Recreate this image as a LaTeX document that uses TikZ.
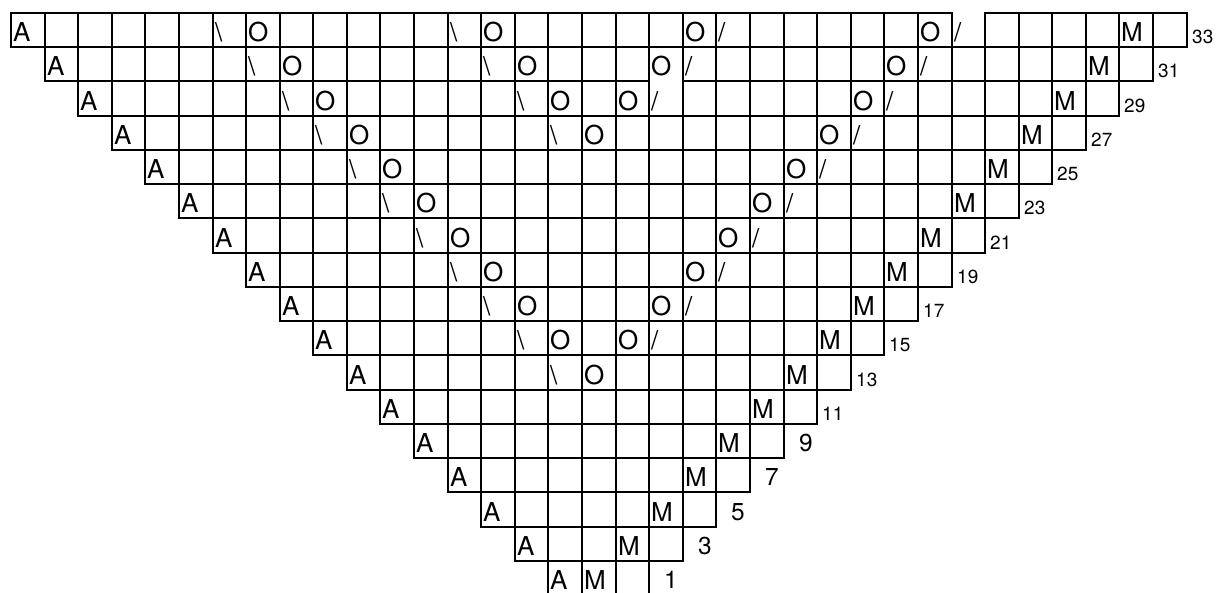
\documentclass[tikz,border=0pt]{standalone}
\usepackage{fontspec}
\setmainfont{TeX Gyre Heros}
\begin{document}
\begin{tikzpicture}[x=1pt,y=-1pt,
  declare function={px(\c)=round(11+33.59*\c); py(\i)=round(12.7+34.27*\i);},
  gridline/.style={line width=2pt,line cap=rect,black},
  sym/.style={anchor=base west,inner sep=0pt,font=\fontsize{26}{27}\selectfont},
  biglab/.style={anchor=base west,inner sep=0pt,font=\fontsize{24.5}{26}\selectfont},
  smalllab/.style={anchor=base west,inner sep=0pt,font=\fontsize{19}{20}\selectfont}]
\useasboundingbox (0,0) rectangle (1221,592);
\clip (0,0) rectangle (1221,592);
% vertical grid lines, row by row
\foreach \i in {0,...,16}{
  \pgfmathtruncatemacro{\e}{35-\i}
  \foreach \c in {\i,...,\e}{
    \draw[gridline] ({px(\c)},{py(\i)}) -- ({px(\c)},{py(\i+1)});
  }
}
% top line of row 33 (gap above column 28)
\draw[gridline] ({px(0)},{py(0)}) -- ({px(28)},{py(0)});
\draw[gridline] ({px(29)},{py(0)}) -- ({px(35)},{py(0)});
% horizontal lines below each row
\foreach \i in {1,...,17}{
  \ifnum\i=2\relax
    \draw[gridline] ({px(1)},{py(2)}) -- ({px(19)},{py(2)});
    \draw[gridline] ({px(20)},{py(2)}) -- ({px(34)},{py(2)});
  \else
    \draw[gridline] ({px(\i-1)},{py(\i)}) -- ({px(36-\i)},{py(\i)});
  \fi
}
% symbols
\foreach \i in {0,...,16}{
  \pgfmathsetmacro{\yb}{py(\i+1)-6}
  \node[sym] (A\i) at ({px(\i)+2},\yb) {A};
  \node[sym] (M\i) at ({px(33-\i)+2},\yb) {M};
  \pgfmathtruncatemacro{\r}{33-2*\i}
  \ifnum\r<10\relax
    \node[biglab] (L\i) at ({px(35-\i)+15},{py(\i+1)-7}) {\r};
  \else
    \node[smalllab] (L\i) at ({px(35-\i)+5},{py(\i+1)-4}) {\r};
  \fi
}
\foreach \i in {0,...,10}{
  \pgfmathsetmacro{\yb}{py(\i+1)-6}
  \node[sym] (bsl\i) at ({px(6+\i)+2},\yb) {\textbackslash};
  \node[sym] (ol\i) at ({px(7+\i)+2},\yb) {O};
}
\foreach \i in {0,...,9}{
  \pgfmathsetmacro{\yb}{py(\i+1)-6}
  \node[sym] (or\i) at ({px(27-\i)+2},\yb) {O};
  \node[sym] (sl\i) at ({px(28-\i)+2},\yb) {/};
}
\foreach \i in {0,...,3}{
  \pgfmathsetmacro{\yb}{py(\i+1)-6}
  \node[sym] (ibsl\i) at ({px(13+\i)+2},\yb) {\textbackslash};
  \node[sym] (iol\i) at ({px(14+\i)+2},\yb) {O};
}
\foreach \i in {0,...,2}{
  \pgfmathsetmacro{\yb}{py(\i+1)-6}
  \node[sym] (ior\i) at ({px(20-\i)+2},\yb) {O};
  \node[sym] (isl\i) at ({px(21-\i)+2},\yb) {/};
}
\end{tikzpicture}
\end{document}
